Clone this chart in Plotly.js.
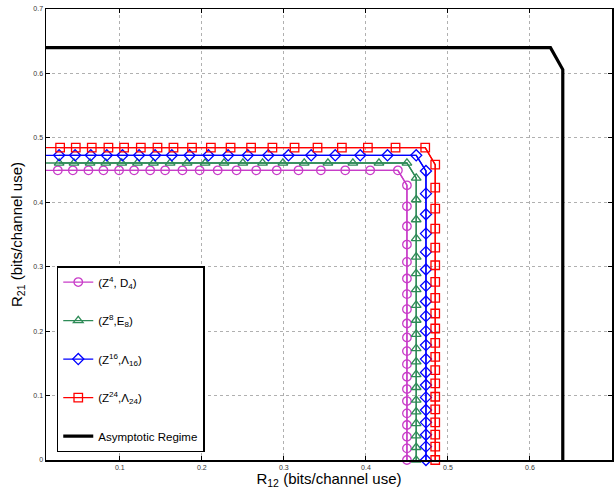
<!DOCTYPE html>
<html>
<head>
<meta charset="utf-8">
<script src="https://cdn.plot.ly/plotly-3.0.1.min.js"></script>
<style>html,body{margin:0;padding:0;background:#fff;}#chart{width:615px;height:489px;}</style>
</head>
<body>
<div id="chart"></div>
<script>
// Series names
const seriesNames = ["(Z<sup>4</sup>, D<sub>4</sub>)", "(Z<sup>8</sup>,E<sub>8</sub>)", "(Z<sup>16</sup>,Λ<sub>16</sub>)", "(Z<sup>24</sup>,Λ<sub>24</sub>)"];
const asymName = "Asymptotic Regime";

// (Z4, D4)
const d4_x = [0.006, 0.0244, 0.0427, 0.0617, 0.0800, 0.0991, 0.1174, 0.1370, 0.1552, 0.1763, 0.1973, 0.2193, 0.2423, 0.2663, 0.2913, 0.3178, 0.3451, 0.3748, 0.4052, 0.4390,
  0.4500, 0.4500, 0.4500, 0.4500, 0.4500, 0.4500, 0.4500, 0.4500, 0.4500, 0.4500, 0.4500, 0.4500, 0.4500, 0.4500, 0.4500, 0.4500, 0.4500, 0.4500, 0.4500, 0.4500];
const d4_y = [0.4496, 0.4496, 0.4496, 0.4496, 0.4496, 0.4496, 0.4496, 0.4496, 0.4496, 0.4496, 0.4496, 0.4496, 0.4496, 0.4496, 0.4496, 0.4496, 0.4496, 0.4496, 0.4496, 0.4496,
  0.4264, 0.3938, 0.3628, 0.3344, 0.3075, 0.2817, 0.2574, 0.2341, 0.2119, 0.1902, 0.1690, 0.1488, 0.1292, 0.1101, 0.0915, 0.0724, 0.0543, 0.0362, 0.0181, 0.0];

// (Z8, E8)
const e8_x = [0.007, 0.0260, 0.0441, 0.0637, 0.0829, 0.1024, 0.1215, 0.1410, 0.1613, 0.182, 0.204, 0.227, 0.250, 0.274, 0.2988, 0.3248, 0.3537, 0.3841, 0.4159, 0.4500,
  0.4613, 0.4613, 0.4613, 0.4613, 0.4613, 0.4613, 0.4613, 0.4613, 0.4613, 0.4613, 0.4613, 0.4613, 0.4613, 0.4613, 0.4613, 0.4613, 0.4613, 0.4613, 0.4613, 0.4613];
const e8_y = [0.4610, 0.4610, 0.4610, 0.4610, 0.4610, 0.4610, 0.4610, 0.4610, 0.4610, 0.4610, 0.4610, 0.4610, 0.4610, 0.4610, 0.4610, 0.4610, 0.4610, 0.4610, 0.4610, 0.4610,
  0.4377, 0.4041, 0.3731, 0.3437, 0.3152, 0.2894, 0.2646, 0.2403, 0.2171, 0.1953, 0.1731, 0.1525, 0.1328, 0.1127, 0.0930, 0.0749, 0.0568, 0.0377, 0.0196, 0.0];

// (Z16, Λ16)
const l16_x = [0.007, 0.0260, 0.0455, 0.0646, 0.0841, 0.1032, 0.1235, 0.1430, 0.1634, 0.185, 0.208, 0.232, 0.256, 0.281, 0.3056, 0.3333, 0.3626, 0.3931, 0.4263, 0.4613,
  0.4732, 0.4732, 0.4732, 0.4732, 0.4732, 0.4732, 0.4732, 0.4732, 0.4732, 0.4732, 0.4732, 0.4732, 0.4732, 0.4732, 0.4732, 0.4732, 0.4732, 0.4732, 0.4732, 0.4732];
const l16_y = [0.4729, 0.4729, 0.4729, 0.4729, 0.4729, 0.4729, 0.4729, 0.4729, 0.4729, 0.4729, 0.4729, 0.4729, 0.4729, 0.4729, 0.4729, 0.4729, 0.4729, 0.4729, 0.4729, 0.4729,
  0.4486, 0.4134, 0.3814, 0.3514, 0.3230, 0.2956, 0.2703, 0.2460, 0.2233, 0.2000, 0.1783, 0.1566, 0.1359, 0.1163, 0.0972, 0.0775, 0.0584, 0.0393, 0.0207, 0.0];

// (Z24, Λ24)
const l24_x = [0.008, 0.0272, 0.0463, 0.0658, 0.0861, 0.1052, 0.1256, 0.1459, 0.1654, 0.188, 0.211, 0.235, 0.260, 0.286, 0.3130, 0.3410, 0.3707, 0.4024, 0.4361, 0.4723,
  0.4845, 0.4845, 0.4845, 0.4845, 0.4845, 0.4845, 0.4845, 0.4845, 0.4845, 0.4845, 0.4845, 0.4845, 0.4845, 0.4845, 0.4845, 0.4845, 0.4845, 0.4845, 0.4845, 0.4845];
const l24_y = [0.4848, 0.4848, 0.4848, 0.4848, 0.4848, 0.4848, 0.4848, 0.4848, 0.4848, 0.4848, 0.4848, 0.4848, 0.4848, 0.4848, 0.4848, 0.4848, 0.4848, 0.4848, 0.4848, 0.4848,
  0.4584, 0.4227, 0.3902, 0.3592, 0.3297, 0.3023, 0.2765, 0.2517, 0.2274, 0.2041, 0.1819, 0.1602, 0.1395, 0.1189, 0.0982, 0.0786, 0.0584, 0.0393, 0.0207, 0.0];

// Asymptotic regime
const asym_x = [0, 0.625, 0.64, 0.64];
const asym_y = [0.64, 0.64, 0.606, 0];

const xTicks = [0.1, 0.2, 0.3, 0.4, 0.5, 0.6, 0.7];
const yTicks = [0, 0.1, 0.2, 0.3, 0.4, 0.5, 0.6, 0.7];

const colors = ["#c83cc8", "#2e8b57", "#0000ff", "#ff0000"];
const symbols = ["circle-open", "triangle-up-open", "diamond-open", "square-open"];
const xs = [d4_x, e8_x, l16_x, l24_x];
const ys = [d4_y, e8_y, l16_y, l24_y];

const traces = [];
for (let i = 0; i < 4; i++) {
  // full line including point left of the axis (clipped)
  traces.push({
    x: xs[i], y: ys[i], type: "scatter", mode: "lines",
    line: {color: colors[i], width: 1.3},
    legendgroup: "g" + i, showlegend: false, hoverinfo: "skip"
  });
  traces.push({
    x: xs[i].slice(1), y: ys[i].slice(1), type: "scatter", mode: "lines+markers",
    name: seriesNames[i], legendgroup: "g" + i,
    cliponaxis: false,
    line: {color: colors[i], width: 1.3},
    marker: {symbol: symbols[i], size: 8.5, color: colors[i], line: {color: colors[i], width: 1.3}}
  });
}
traces.push({
  x: asym_x, y: asym_y, type: "scatter", mode: "lines",
  name: asymName, legendgroup: "g4",
  line: {color: "#000000", width: 3.2}
});

const axisCommon = {
  showline: true, linecolor: "#000", linewidth: 1.5, mirror: "ticks",
  ticks: "inside", ticklen: 4, tickcolor: "#000", tickwidth: 1,
  showgrid: true, gridcolor: "#b0b0b0", griddash: "dot", gridwidth: 1,
  zeroline: false,
  tickfont: {family: "Liberation Sans, Arial, sans-serif", size: 7, color: "#333"}
};

const layout = {
  width: 615, height: 489,
  margin: {l: 46, r: 3, t: 9, b: 29},
  paper_bgcolor: "#fff", plot_bgcolor: "#fff",
  showlegend: true,
  xaxis: Object.assign({}, axisCommon, {
    range: [0.01, 0.7], tickvals: xTicks, ticktext: xTicks.map(String),
    title: {text: "R<sub>12</sub> (bits/channel use)", standoff: 1,
      font: {family: "Liberation Sans, Arial, sans-serif", size: 15, color: "#000"}}
  }),
  yaxis: Object.assign({}, axisCommon, {
    range: [0, 0.7], tickvals: yTicks, ticktext: yTicks.map(String),
    title: {text: "R<sub>21</sub> (bits/channel use)", standoff: 7,
      font: {family: "Liberation Sans, Arial, sans-serif", size: 15, color: "#000"}}
  }),
  legend: {
    x: 0.019, y: 0.43, xanchor: "left", yanchor: "top",
    bgcolor: "#fff", bordercolor: "#000", borderwidth: 1.5,
    font: {family: "Liberation Sans, Arial, sans-serif", size: 11.5, color: "#000"},
    traceorder: "grouped", tracegroupgap: 19.5, itemwidth: 30
  }
};

Plotly.newPlot("chart", traces, layout, {staticPlot: true, displayModeBar: false});
</script>
</body>
</html>
